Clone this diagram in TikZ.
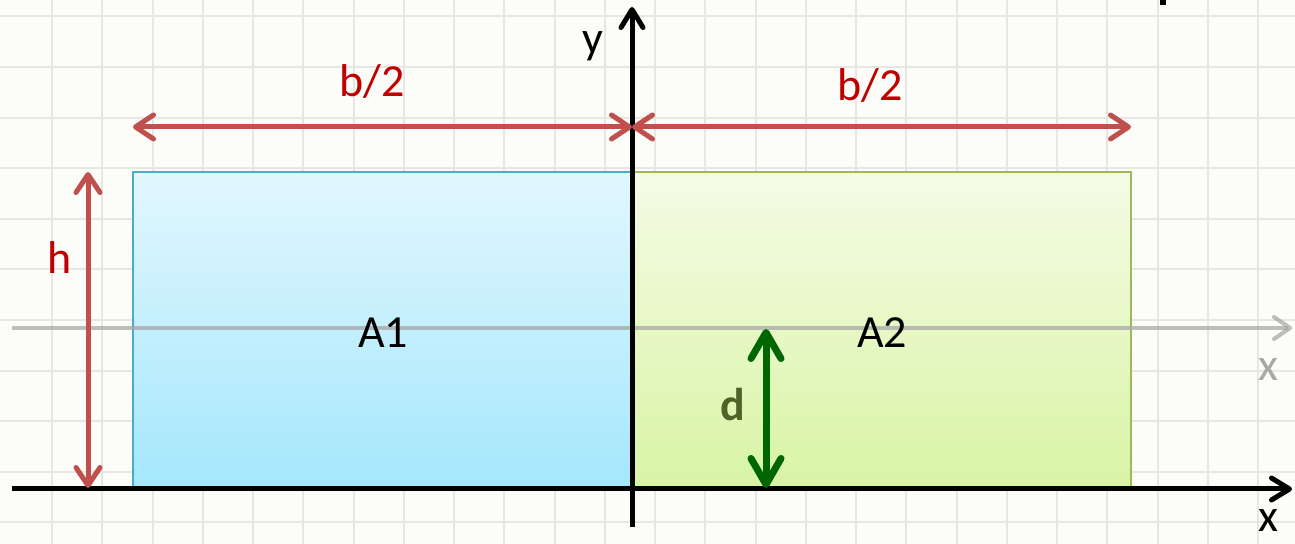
\documentclass[tikz,border=0pt]{standalone}
\usepackage{fontspec}
\setmainfont{Carlito}
\usetikzlibrary{arrows.meta}
\definecolor{bg}{HTML}{FCFCF8}
\definecolor{gridc}{HTML}{E6E6E2}
\definecolor{redc}{HTML}{C0504D}
\definecolor{redtext}{HTML}{C00000}
\definecolor{blueborder}{HTML}{4BACC6}
\definecolor{bluetop}{HTML}{E2F7FE}
\definecolor{bluebot}{HTML}{A4E7FC}
\definecolor{greenborder}{HTML}{9BBB59}
\definecolor{greentop}{HTML}{F5FBE6}
\definecolor{greenbot}{HTML}{D8F4A4}
\definecolor{darkgreen}{HTML}{006600}
\definecolor{olivec}{HTML}{4F6228}
\definecolor{axisgrey}{HTML}{A8A8A8}
\tikzset{
  barb/.tip={Straight Barb[length=9pt,width=12pt,round]},
  gbarb/.tip={Straight Barb[length=13pt,width=15pt,round]},
  redarrow/.style={draw=redc, line width=2.5pt, barb-barb},
  greenarrow/.style={draw=darkgreen, line width=3.5pt, gbarb-gbarb},
  axisline/.style={draw=black, line width=2.5pt, -{Straight Barb[length=9pt,width=11pt,round]}},
  greyaxis/.style={draw=axisgrey, draw opacity=0.75, line width=2pt, -{Straight Barb[length=8pt,width=11pt,round]}},
  lbl/.style={font=\fontsize{23}{27}\selectfont, inner sep=0pt},
  redlbl/.style={lbl, text=redtext},
  gridline/.style={draw=gridc, line width=1pt},
}
\begin{document}
\begin{tikzpicture}[x=0.5pt,y=-0.5pt]
\useasboundingbox (0,0) rectangle (1295,544);
\fill[bg] (0,0) rectangle (1295,544);
% grid
\foreach \i in {0,...,24} \draw[gridline] ({52+50.25*\i},0) -- ++(0,544);
\foreach \j in {0,...,10} \draw[gridline] (0,{16.5+50.6*\j}) -- ++(1295,0);
% cut-off fragment at top
\fill[black] (1160,0) rectangle (1166,5);
% rectangles
\draw[blueborder, line width=1pt, top color=bluetop, bottom color=bluebot] (133,172) rectangle (632,489);
\draw[greenborder, line width=1pt, top color=greentop, bottom color=greenbot] (632,172) rectangle (1131,489);
% coordinates
\coordinate (gx0) at (12,328);
\coordinate (gx1) at (1292,328);
\coordinate (x0) at (12,489);
\coordinate (x1) at (1292,489);
\coordinate (y0) at (632,527);
\coordinate (y1) at (632,7);
\coordinate (bl) at (133,127);
\coordinate (bm) at (632,127);
\coordinate (br) at (1131,127);
\coordinate (ht) at (88,172);
\coordinate (hb) at (88,488);
\coordinate (dt) at (766,329);
\coordinate (db) at (766,488);
% axes
\draw[greyaxis] (gx0) -- (gx1);
\draw[axisline] (x0) -- (x1);
\draw[axisline] (y0) -- (y1);
% dimension arrows
\draw[redarrow] (bl) -- (bm);
\draw[redarrow] (bm) -- (br);
\draw[redarrow] (ht) -- (hb);
\draw[greenarrow] (dt) -- (db);
% labels
\node[redlbl] (lb1) at (372,82) {b/2};
\node[redlbl] (lb2) at (870,86) {b/2};
\node[redlbl] (lh) at (60,258) {h};
\node[lbl] (lA1) at (383,333) {A1};
\node[lbl] (lA2) at (882,333) {A2};
\node[lbl, text=olivec, font=\fontsize{23}{27}\selectfont\bfseries] (ld) at (733,405) {d};
\node[lbl] (ly) at (593,46) {y};
\node[lbl, text=axisgrey] (lgx) at (1268,370) {x};
\node[lbl] (lx) at (1268,521) {x};
\end{tikzpicture}
\end{document}
